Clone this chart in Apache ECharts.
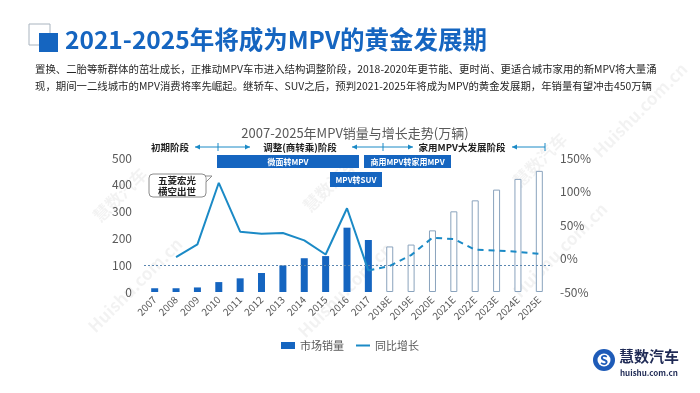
<!DOCTYPE html>
<html><head><meta charset="utf-8">
<script src="https://cdn.jsdelivr.net/npm/echarts@6/dist/echarts.min.js"></script>
<style>html,body{margin:0;padding:0;background:#fff}#c{width:700px;height:393px}</style>
</head><body><div id="c"></div>
<script>
const categories = ['2007','2008','2009','2010','2011','2012','2013','2014','2015','2016','2017','2018E','2019E','2020E','2021E','2022E','2023E','2024E','2025E'];
const sales = [14,14,17,37,51,71,99,126,134,240,194,170,177,230,301,342,382,422,452];
const growth = [null,2,21,113,40,37,38,27,6,75,-18,-11,5,31,29,13,12,10,7];
const actualCount = 11; // 2007-2017 actual, rest forecast
const leftTicks = {min:0, max:500, interval:100};
const rightTicks = {min:-50, max:150, interval:50};
const refLineValue = 100;

const FONT = '"Noto Sans CJK SC", "Noto Sans", sans-serif';
const BLUE = '#1565c0';
const LINE = '#1b8ac6';

const barData = sales.map((v,i)=> i < actualCount
  ? {value:v, itemStyle:{color:BLUE}}
  : {value:v, itemStyle:{color:'#fff', borderColor:'#8aa3bd', borderWidth:1}});
const solidLine = growth.map((v,i)=> i < actualCount ? v : null);
const dashLine = growth.map((v,i)=> i >= actualCount-1 ? v : null);

function arrowHead(x,y,dir){
  return {type:'polygon', shape:{points:[[x,y],[x-dir*5,y-2.5],[x-dir*5,y+2.5]]}, style:{fill:LINE}, silent:true};
}
function hline(x1,x2,y){return {type:'line', shape:{x1,y1:y,x2,y2:y}, style:{stroke:LINE,lineWidth:1}};}
function vtick(x,y){return {type:'line', shape:{x1:x,y1:y-4,x2:x,y2:y+4}, style:{stroke:LINE,lineWidth:1}};}
function boxLabel(x1,x2,y1,y2,txt){
  return [{type:'rect', shape:{x:x1,y:y1,width:x2-x1,height:y2-y1}, style:{fill:BLUE}},
          {type:'text', x:(x1+x2)/2, y:(y1+y2)/2, style:{text:txt, fill:'#fff', font:'bold 8px '+FONT, textAlign:'center', textVerticalAlign:'middle'}}];
}
function phaseText(x,y,t){return {type:'text', x, y, style:{text:t, fill:'#222', font:'bold 9.5px '+FONT, textAlign:'center', textVerticalAlign:'middle'}};}

const watermarks = [];
[[120,195,'慧数汽车'],[135,285,'Huishu.com.cn'],[330,185,'慧数汽车'],[345,290,'Huishu.com.cn'],[540,160,'慧数汽车'],[560,250,'Huishu.com.cn'],[640,110,'Huishu.com.cn']].forEach(([x,y,t])=>{
  watermarks.push({type:'text', x, y, rotation:Math.PI/4, silent:true, z:-1,
    style:{text:t, fill:'rgba(0,0,0,0.05)', font:'bold 17px '+FONT, textAlign:'center', textVerticalAlign:'middle'}});
});

const graphics = [
  ...watermarks,
  {type:'rect', shape:{x:29,y:24,width:21,height:21}, style:{fill:'#fff', stroke:'#a9b4bf', lineWidth:1}},
  {type:'rect', shape:{x:39,y:33,width:19,height:19}, style:{fill:'#1565c0'}},
  {type:'text', x:65, y:40, style:{text:'2021-2025年将成为MPV的黄金发展期', fill:'#1565c0', font:'bold 24.5px '+FONT, textVerticalAlign:'middle'}},
  {type:'text', x:35, y:69, style:{text:'置换、二胎等新群体的茁壮成长，正推动MPV车市进入结构调整阶段，2018-2020年更节能、更时尚、更适合城市家用的新MPV将大量涌', fill:'#262626', font:'10.4px '+FONT, textVerticalAlign:'middle'}},
  {type:'text', x:35, y:86, style:{text:'现，期间一二线城市的MPV消费将率先崛起。继轿车、SUV之后，预判2021-2025年将成为MPV的黄金发展期，年销量有望冲击450万辆', fill:'#262626', font:'10.4px '+FONT, textVerticalAlign:'middle'}},
  phaseText(170,147,'初期阶段'),
  hline(195,250,147), arrowHead(195,147,-1), arrowHead(250,147,1), vtick(218,147),
  phaseText(300,147,'调整(商转乘)阶段'),
  hline(352,413,147), arrowHead(352,147,-1), arrowHead(413,147,1), vtick(383,147),
  phaseText(462,147,'家用MPV大发展阶段'),
  hline(512,545,147), arrowHead(512,147,-1), vtick(545,147),
  ...boxLabel(217,359,155,168,'微面转MPV'),
  ...boxLabel(364,451,155,168,'商用MPV转家用MPV'),
  ...boxLabel(330,382,172,187,'MPV转SUV'),
  {type:'polygon', shape:{points:[[200,176],[212,176],[204,184]]}, style:{fill:'#fff', stroke:'#8c8c8c', lineWidth:1}},
  {type:'rect', shape:{x:149,y:174,width:57,height:23,r:4}, style:{fill:'#fff', stroke:'#8c8c8c', lineWidth:1}},
  {type:'rect', shape:{x:199,y:177,width:6.4,height:5}, style:{fill:'#fff'}},
  {type:'text', x:177, y:185.5, style:{text:'五菱宏光\n横空出世', fill:'#222', font:'bold 9.5px '+FONT, lineHeight:11, textAlign:'center', textVerticalAlign:'middle'}},
  {type:'circle', shape:{cx:604,cy:360,r:11}, style:{fill:'#1e5bb8'}},
  {type:'circle', shape:{cx:604,cy:360,r:6.5}, style:{fill:'#fff'}},
  {type:'text', x:604, y:360.5, style:{text:'S', fill:'#1e5bb8', font:'bold 13px '+FONT, textAlign:'center', textVerticalAlign:'middle'}},
  {type:'text', x:619, y:356, style:{text:'慧数汽车', fill:'#1f2a55', font:'bold 15px '+FONT, textVerticalAlign:'middle'}},
  {type:'text', x:620, y:373, style:{text:'huishu.com.cn', fill:'#1f2a55', font:'bold 8px '+FONT, textVerticalAlign:'middle'}}
];

const chart = echarts.init(document.getElementById('c'), null, {renderer:'canvas'});
chart.setOption({
  animation:false,
  backgroundColor:'#fff',
  textStyle:{fontFamily:FONT},
  title:{text:'2007-2025年MPV销量与增长走势(万辆)', left:350, top:122, textAlign:'center',
    textStyle:{fontSize:13, fontWeight:'normal', color:'#595959', fontFamily:FONT}},
  legend:{data:[{name:'市场销量', icon:'rect'}, {name:'同比增长', icon:'path://M0,0h14v2h-14z'}],
    left:'center', top:335, itemWidth:14, itemHeight:7, itemGap:12,
    textStyle:{fontSize:11, color:'#595959', fontFamily:FONT}},
  grid:{left:144, right:150, top:158, bottom:101},
  xAxis:{type:'category', data:categories,
    axisLine:{show:false}, axisTick:{show:false},
    axisLabel:{rotate:45, fontSize:10, color:'#595959', margin:6, interval:0, fontFamily:FONT}},
  yAxis:[
    {type:'value', min:leftTicks.min, max:leftTicks.max, interval:leftTicks.interval, splitLine:{show:false},
     axisLabel:{fontSize:12, color:'#595959', margin:12, fontFamily:FONT}},
    {type:'value', min:rightTicks.min, max:rightTicks.max, interval:rightTicks.interval, splitLine:{show:false},
     axisLabel:{fontSize:12, color:'#595959', margin:10, formatter:'{value}%', fontFamily:FONT}}
  ],
  series:[
    {name:'市场销量', type:'bar', data:barData, barWidth:7, itemStyle:{color:BLUE},
     markLine:{silent:true, symbol:'none', label:{show:false},
       lineStyle:{type:[2,2], color:'#5a86b0', width:1}, data:[{yAxis:refLineValue}]}},
    {name:'同比增长', type:'line', yAxisIndex:1, data:solidLine, symbol:'none', lineStyle:{color:LINE, width:2}, itemStyle:{color:LINE}},
    {name:'同比增长预测', type:'line', yAxisIndex:1, data:dashLine, symbol:'none', lineStyle:{color:LINE, width:2, type:[6,5]}, itemStyle:{color:LINE}}
  ],
  graphic:graphics
});
</script></body></html>
